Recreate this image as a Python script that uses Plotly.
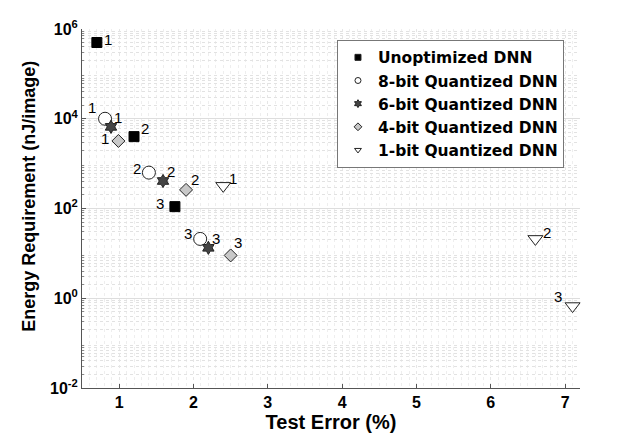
import math
import plotly.graph_objects as go

series = ["Unoptimized DNN", "8-bit Quantized DNN", "6-bit Quantized DNN",
          "4-bit Quantized DNN", "1-bit Quantized DNN"]
err_unopt = [0.70, 1.20, 1.75]
eng_unopt = [5.0e5, 4.0e3, 110]
err_8 = [0.81, 1.40, 2.09]
eng_8 = [1.0e4, 630, 21]
err_6 = [0.89, 1.59, 2.20]
eng_6 = [6.6e3, 410, 13.3]
err_4 = [0.99, 1.90, 2.50]
eng_4 = [3.2e3, 260, 9.0]
err_1 = [2.40, 6.60, 7.10]
eng_1 = [320, 21, 0.67]
point_labels = ["1", "2", "3"]

ytick_vals = [1e-2, 1e0, 1e2, 1e4, 1e6]
ytick_text = ["10<sup>-2</sup>", "10<sup>0</sup>", "10<sup>2</sup>", "10<sup>4</sup>", "10<sup>6</sup>"]
xtick_vals = [1, 2, 3, 4, 5, 6, 7]

# label offsets in pixels (dx right, dy up) per series / point
label_offsets = [
    [(11, 3), (11, 8), (-15, 3)],
    [(-13, 11), (-12, 4), (-12, 5)],
    [(7, 9), (8, 10), (8, 9)],
    [(-13, 2), (9, 10), (7, 13)],
    [(10, 7), (12, 6), (-15, 10)],
]

FONT = "Liberation Sans"

styles = [
    dict(symbol="square", size=10, color="black", line=dict(color="black", width=1)),
    dict(symbol="circle", size=13, color="white", line=dict(color="#222", width=1)),
    dict(symbol="hexagram", size=10, color="#444444", line=dict(color="#222", width=1)),
    dict(symbol="diamond", size=10, color="#c8c8c8", line=dict(color="#222", width=1)),
    dict(symbol="triangle-down", size=13, color="white", line=dict(color="#222", width=1)),
]
data = [(err_unopt, eng_unopt), (err_8, eng_8), (err_6, eng_6),
        (err_4, eng_4), (err_1, eng_1)]

fig = go.Figure()
annotations = []
for name, (xs, ys), st, offs in zip(series, data, styles, label_offsets):
    fig.add_trace(go.Scatter(
        x=xs, y=ys, mode="markers", name=name, showlegend=False,
        marker=st, cliponaxis=False,
    ))
    leg = dict(st)
    leg["size"] = 6
    leg["line"] = dict(color="#222", width=1)
    fig.add_trace(go.Scatter(
        x=[None], y=[None], mode="markers", name=name, marker=leg, showlegend=True,
    ))
    for xv, yv, lab, (dx, dy) in zip(xs, ys, point_labels, offs):
        annotations.append(dict(
            x=xv, y=math.log10(yv), xref="x", yref="y", text=lab, showarrow=False,
            xshift=dx, yshift=dy, font=dict(family=FONT, size=15, color="black"),
        ))

annotations.append(dict(
    x=-0.108, y=0.533, xref="paper", yref="paper", xanchor="center", yanchor="middle",
    text="Energy Requirement (nJ/image)", textangle=-90, showarrow=False,
    font=dict(family=FONT, size=18, color="black", weight="bold"),
))

fig.update_layout(
    width=640, height=441,
    margin=dict(l=74, r=68, t=21, b=61, autoexpand=False),
    paper_bgcolor="white", plot_bgcolor="white",
    font=dict(family=FONT, size=14, color="black"),
    annotations=annotations,
    legend=dict(
        x=0.512, y=0.97, xanchor="left", yanchor="top",
        bordercolor="#777", borderwidth=1, bgcolor="white",
        font=dict(family="DejaVu Sans", size=15.5, color="black", weight="bold"),
        itemsizing="trace", tracegroupgap=0, itemwidth=30,
    ),
    showlegend=True,
)
fig.update_xaxes(
    range=[0.5, 7.2], tickvals=xtick_vals,
    showline=True, linecolor="#555", linewidth=1, mirror=False,
    ticks="inside", ticklen=4, tickcolor="#555",
    showgrid=True, gridcolor="#e6e6e6", griddash="dot", gridwidth=1,
    minor=dict(dtick=0.1, showgrid=True, gridcolor="#eeeeee", griddash="dot"),
    zeroline=False,
    tickfont=dict(family=FONT, size=16, color="black", weight="bold"),
    title=dict(text="Test Error (%)", standoff=2,
               font=dict(family=FONT, size=20, color="black", weight="bold")),
)
fig.update_yaxes(
    type="log", range=[-2, 6], tickvals=ytick_vals, ticktext=ytick_text,
    showline=True, linecolor="#555", linewidth=1, mirror=False,
    ticks="inside", ticklen=4, tickcolor="#555",
    showgrid=True, gridcolor="#dddddd", gridwidth=1,
    minor=dict(tickvals=[m * 10 ** e for e in range(-2, 6) for m in range(2, 10)],
               ticks="inside", ticklen=2, tickcolor="#888",
               showgrid=True, gridcolor="#e2e2e2", griddash="dot"),
    zeroline=False,
    tickfont=dict(family=FONT, size=16, color="black", weight="bold"),
)

fig.write_html("out.html")
